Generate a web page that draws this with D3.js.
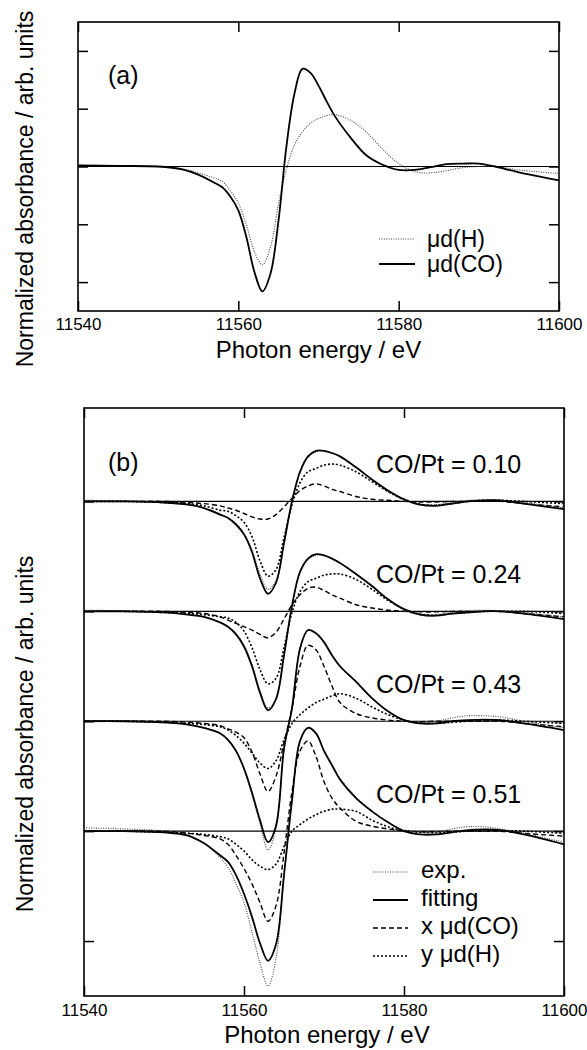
<!DOCTYPE html>
<html>
<head>
<meta charset="utf-8">
<script src="https://cdn.jsdelivr.net/npm/d3@7"></script>
<style>
  body { margin: 0; background: #fff; }
  svg { font-family: "Liberation Sans", Arial, sans-serif; }
</style>
</head>
<body>
<div id="chart"></div>
<script>
// Energy grid (eV) shared by every curve
const energy = [11540, 11545, 11550, 11553, 11555, 11557, 11558, 11559, 11560, 11561,
  11562, 11563, 11564, 11565, 11566, 11567, 11568, 11569, 11570, 11571, 11572,
  11574, 11576, 11578, 11580, 11582, 11584, 11586, 11588, 11590, 11592, 11595, 11600];

const xTicks = [11540, 11560, 11580, 11600];

// Panel (a): reference spectra
const muCO = [0.02, 0.01, 0.0, -0.05, -0.14, -0.28, -0.36, -0.52, -0.76, -1.22,
  -1.82, -2.16, -1.86, -0.95, 0.35, 1.26, 1.69, 1.62, 1.40, 1.13, 0.88,
  0.50, 0.19, 0.03, -0.06, -0.06, -0.01, 0.04, 0.05, 0.05, 0.0, -0.10, -0.24];
const muH = [0.02, 0.01, 0.0, -0.04, -0.11, -0.20, -0.26, -0.42, -0.63, -1.01,
  -1.47, -1.70, -1.40, -0.65, -0.05, 0.37, 0.60, 0.75, 0.83, 0.88, 0.90,
  0.80, 0.59, 0.30, 0.05, -0.09, -0.11, -0.07, -0.02, 0.0, 0.0, -0.06, -0.12];

// Panel (b): coverage labels and four spectra (relative to each baseline)
const coverage = ['CO/Pt = 0.10', 'CO/Pt = 0.24', 'CO/Pt = 0.43', 'CO/Pt = 0.51'];
const offsets = [0, -1, -2, -3];

const exp010 = [0.01, 0.005, -0.01, -0.03, -0.06, -0.11, -0.15, -0.20, -0.29, -0.44,
  -0.66, -0.80, -0.72, -0.37, 0.0, 0.26, 0.40, 0.45, 0.46, 0.44, 0.41,
  0.31, 0.20, 0.09, 0.01, -0.03, -0.03, -0.01, 0.01, 0.015, 0.01, -0.01, -0.06];
const fit010 = [0, 0, -0.01, -0.03, -0.06, -0.12, -0.15, -0.21, -0.30, -0.46,
  -0.70, -0.84, -0.74, -0.38, 0.0, 0.27, 0.41, 0.46, 0.46, 0.44, 0.41,
  0.31, 0.20, 0.10, 0.02, -0.03, -0.04, -0.02, 0.0, 0.01, 0.01, -0.02, -0.07];
const co010 = [0, 0, 0, -0.01, -0.02, -0.04, -0.06, -0.08, -0.11, -0.14,
  -0.16, -0.16, -0.12, -0.05, 0.03, 0.10, 0.14, 0.16, 0.14, 0.11, 0.09,
  0.045, 0.02, 0.01, 0, -0.005, -0.005, 0, 0, 0, 0, -0.02, -0.05];
const h010 = [0, 0, -0.01, -0.02, -0.04, -0.08, -0.09, -0.13, -0.19, -0.32,
  -0.54, -0.68, -0.62, -0.33, -0.03, 0.17, 0.27, 0.30, 0.33, 0.34, 0.33,
  0.27, 0.18, 0.09, 0.02, -0.025, -0.035, -0.02, 0, 0.01, 0.01, 0, -0.02];

const exp024 = [0.01, 0.005, -0.01, -0.03, -0.05, -0.10, -0.14, -0.20, -0.31, -0.48,
  -0.72, -0.88, -0.79, -0.40, 0.05, 0.35, 0.47, 0.51, 0.51, 0.48, 0.44,
  0.34, 0.23, 0.11, 0.01, -0.03, -0.03, -0.01, 0.005, 0.01, 0.005, -0.01, -0.05];
const fit024 = [0, 0, -0.01, -0.03, -0.05, -0.10, -0.14, -0.21, -0.32, -0.50,
  -0.74, -0.90, -0.80, -0.40, 0.05, 0.36, 0.48, 0.52, 0.51, 0.48, 0.44,
  0.34, 0.23, 0.11, 0.02, -0.03, -0.04, -0.02, -0.01, 0, 0, -0.02, -0.07];
const co024 = [0, 0, 0, -0.01, -0.02, -0.05, -0.08, -0.11, -0.14, -0.17,
  -0.21, -0.24, -0.19, -0.07, 0.06, 0.15, 0.21, 0.22, 0.19, 0.15, 0.12,
  0.06, 0.03, 0.01, 0, -0.005, -0.005, 0, 0, 0, 0, -0.02, -0.05];
const h024 = [0, 0, -0.01, -0.02, -0.03, -0.05, -0.06, -0.10, -0.18, -0.33,
  -0.53, -0.66, -0.61, -0.33, -0.01, 0.18, 0.27, 0.30, 0.33, 0.34, 0.34,
  0.29, 0.20, 0.10, 0.02, -0.025, -0.035, -0.02, -0.01, 0, 0, 0, -0.02];

const exp043 = [0.005, 0, -0.01, -0.03, -0.06, -0.11, -0.17, -0.27, -0.44, -0.67,
  -0.93, -1.17, -0.98, -0.26, 0.12, 0.66, 0.83, 0.80, 0.72, 0.60, 0.50,
  0.36, 0.21, 0.09, 0.01, -0.01, 0.0, 0.03, 0.05, 0.05, 0.04, 0.0, -0.06];
const fit043 = [0, 0, -0.01, -0.03, -0.06, -0.11, -0.17, -0.27, -0.43, -0.65,
  -0.90, -1.10, -0.95, -0.25, 0.12, 0.66, 0.83, 0.80, 0.72, 0.60, 0.50,
  0.36, 0.21, 0.09, 0.01, -0.02, -0.02, 0, 0.01, 0.015, 0.01, -0.02, -0.08];
const co043 = [0, 0, 0, -0.01, -0.02, -0.04, -0.07, -0.10, -0.15, -0.28,
  -0.48, -0.64, -0.50, -0.20, 0.12, 0.50, 0.69, 0.65, 0.50, 0.32, 0.17,
  0.07, 0.03, 0.01, 0, -0.005, 0, 0, 0, 0, 0, -0.02, -0.05];
const h043 = [0, 0, -0.01, -0.02, -0.03, -0.05, -0.08, -0.13, -0.20, -0.29,
  -0.38, -0.43, -0.36, -0.17, -0.02, 0.06, 0.12, 0.17, 0.20, 0.23, 0.25,
  0.21, 0.13, 0.06, 0.01, -0.015, -0.02, -0.01, 0, 0.01, 0.01, 0, -0.02];

const exp051 = [0.03, 0.02, 0.0, -0.04, -0.11, -0.24, -0.33, -0.48, -0.65, -0.92,
  -1.20, -1.41, -1.16, -0.40, 0.28, 0.82, 0.94, 0.89, 0.73, 0.60, 0.48,
  0.31, 0.18, 0.08, 0.01, -0.01, -0.01, 0.02, 0.04, 0.04, 0.02, -0.02, -0.10];
const fit051 = [0, 0, -0.01, -0.04, -0.11, -0.22, -0.28, -0.40, -0.57, -0.78,
  -1.02, -1.18, -1.03, -0.40, 0.28, 0.82, 0.94, 0.89, 0.73, 0.60, 0.47,
  0.30, 0.18, 0.08, 0.0, -0.03, -0.03, -0.01, 0.01, 0.015, 0.01, -0.03, -0.12];
const co051 = [0, 0, 0, -0.02, -0.04, -0.07, -0.12, -0.22, -0.34, -0.48,
  -0.65, -0.82, -0.68, -0.20, 0.36, 0.73, 0.82, 0.68, 0.45, 0.30, 0.21,
  0.09, 0.045, 0.02, 0.005, -0.005, -0.005, 0, 0, 0, 0, -0.02, -0.045];
const h051 = [0, 0, -0.01, -0.02, -0.03, -0.05, -0.07, -0.12, -0.18, -0.26,
  -0.32, -0.35, -0.30, -0.14, 0.0, 0.06, 0.11, 0.15, 0.18, 0.20, 0.20,
  0.18, 0.10, 0.04, 0.0, -0.01, -0.015, -0.01, 0, 0.005, 0.005, 0, -0.02];

const spectra = [
  {exp: exp010, fit: fit010, co: co010, h: h010},
  {exp: exp024, fit: fit024, co: co024, h: h024},
  {exp: exp043, fit: fit043, co: co043, h: h043},
  {exp: exp051, fit: fit051, co: co051, h: h051}
];

// Line styles
const styles = {
  exp:  {width: 1.1, dash: '1,1.4', colour: '#444'},
  fit:  {width: 1.8, dash: null, colour: '#000'},
  co:   {width: 1.4, dash: '5,3', colour: '#000'},
  h:    {width: 1.6, dash: '2,2', colour: '#000'}
};

const svg = d3.select('#chart').append('svg')
    .attr('width', 587)
    .attr('height', 1050);

const xA = d3.scaleLinear().domain([11540, 11600]).range([78, 559]);
const yA = d3.scaleLinear().domain([-2.5, 2.5]).range([311, 22]);
const xB = d3.scaleLinear().domain([11540, 11600]).range([84, 564]);
const yB = d3.scaleLinear().domain([-4.5, 0.85]).range([996, 408]);

function frame(x, y, yTicks, labelPad) {
  const [x0, x1] = x.range();
  const [y0, y1] = y.range();
  const g = svg.append('g');

  g.append('g')
      .attr('transform', 'translate(0,' + y0 + ')')
      .call(d3.axisBottom(x).tickValues(xTicks).tickSizeInner(-10)
        .tickSizeOuter(0).tickPadding(labelPad).tickFormat(d => d))
      .call(a => a.select('.domain').remove())
      .call(a => a.selectAll('text').attr('font-size', 17).attr('fill', '#000')
        .attr('font-family', '"Liberation Sans", Arial, sans-serif'));
  g.append('g')
      .attr('transform', 'translate(0,' + y1 + ')')
      .call(d3.axisTop(x).tickValues(xTicks).tickSizeInner(-10)
        .tickSizeOuter(0).tickFormat(''))
      .call(a => a.select('.domain').remove());
  g.append('g')
      .attr('transform', 'translate(' + x0 + ',0)')
      .call(d3.axisLeft(y).tickValues(yTicks).tickSizeInner(-10)
        .tickSizeOuter(0).tickFormat(''))
      .call(a => a.select('.domain').remove());
  g.append('g')
      .attr('transform', 'translate(' + x1 + ',0)')
      .call(d3.axisRight(y).tickValues(yTicks).tickSizeInner(-10)
        .tickSizeOuter(0).tickFormat(''))
      .call(a => a.select('.domain').remove());

  g.selectAll('.tick line').attr('stroke', '#000').attr('stroke-width', 1.5);

  g.append('rect')
      .attr('x', x0).attr('y', y1)
      .attr('width', x1 - x0).attr('height', y0 - y1)
      .attr('fill', 'none')
      .attr('stroke', '#000')
      .attr('stroke-width', 1.6);
  return g;
}

function drawCurve(x, y, values, offset, style) {
  const line = d3.line()
      .x((d, i) => x(energy[i]))
      .y(d => y(d + offset))
      .curve(d3.curveCatmullRom.alpha(0.5));
  svg.append('path')
      .datum(values)
      .attr('d', line)
      .attr('fill', 'none')
      .attr('stroke', style.colour)
      .attr('stroke-width', style.width)
      .attr('stroke-dasharray', style.dash)
      .attr('stroke-linejoin', 'round');
}

function baseline(x, y, offset) {
  svg.append('line')
      .attr('x1', x.range()[0]).attr('x2', x.range()[1])
      .attr('y1', y(offset)).attr('y2', y(offset))
      .attr('stroke', '#000')
      .attr('stroke-width', 1.2);
}

// ---- Panel (a)
frame(xA, yA, [-2, -1, 0, 1, 2], 7);
baseline(xA, yA, 0);
drawCurve(xA, yA, muH, 0, styles.exp);
drawCurve(xA, yA, muCO, 0, styles.fit);

svg.append('text')
    .attr('x', 108).attr('y', 84)
    .attr('font-size', 25)
    .text('(a)');

const legendA = svg.append('g').attr('font-size', 23);
[['μd(H)', styles.exp], ['μd(CO)', styles.fit]].forEach((d, i) => {
  const cy = 239 + i * 25;
  legendA.append('line')
      .attr('x1', 379).attr('x2', 415).attr('y1', cy).attr('y2', cy)
      .attr('stroke', d[1].colour).attr('stroke-width', d[1].width)
      .attr('stroke-dasharray', d[1].dash);
  legendA.append('text')
      .attr('x', 427).attr('y', cy + 8)
      .text(d[0]);
});

// ---- Panel (b)
frame(xB, yB, [-4, -3, -2, -1, 0], 8);
spectra.forEach((s, i) => {
  const off = offsets[i];
  baseline(xB, yB, off);
  drawCurve(xB, yB, s.h, off, styles.h);
  drawCurve(xB, yB, s.co, off, styles.co);
  drawCurve(xB, yB, s.exp, off, styles.exp);
  drawCurve(xB, yB, s.fit, off, styles.fit);
  svg.append('text')
      .attr('x', 376).attr('y', yB(off) - 28)
      .attr('font-size', 25)
      .text(coverage[i]);
});

svg.append('text')
    .attr('x', 108).attr('y', 471)
    .attr('font-size', 25)
    .text('(b)');

const legendB = svg.append('g').attr('font-size', 24);
[['exp.', styles.exp], ['fitting', styles.fit], ['x μd(CO)', styles.co], ['y μd(H)', styles.h]]
  .forEach((d, i) => {
    const cy = 872 + i * 28;
    legendB.append('line')
        .attr('x1', 373).attr('x2', 408).attr('y1', cy).attr('y2', cy)
        .attr('stroke', d[1].colour).attr('stroke-width', d[1].width)
        .attr('stroke-dasharray', d[1].dash);
    legendB.append('text')
        .attr('x', 421).attr('y', cy + 6)
        .text(d[0]);
  });

// ---- Axis titles
const yTitle = 'Normalized absorbance / arb. units';
const xTitle = 'Photon energy / eV';

svg.append('text')
    .attr('transform', 'translate(33,189) rotate(-90)')
    .attr('text-anchor', 'middle')
    .attr('font-size', 23)
    .text(yTitle);
svg.append('text')
    .attr('transform', 'translate(33,734) rotate(-90)')
    .attr('text-anchor', 'middle')
    .attr('font-size', 23)
    .text(yTitle);

svg.append('text')
    .attr('x', d3.mean(xA.range())).attr('y', 358)
    .attr('text-anchor', 'middle')
    .attr('font-size', 24)
    .text(xTitle);
svg.append('text')
    .attr('x', d3.mean(xB.range()) + 3).attr('y', 1043)
    .attr('text-anchor', 'middle')
    .attr('font-size', 24)
    .text(xTitle);
</script>
</body>
</html>
